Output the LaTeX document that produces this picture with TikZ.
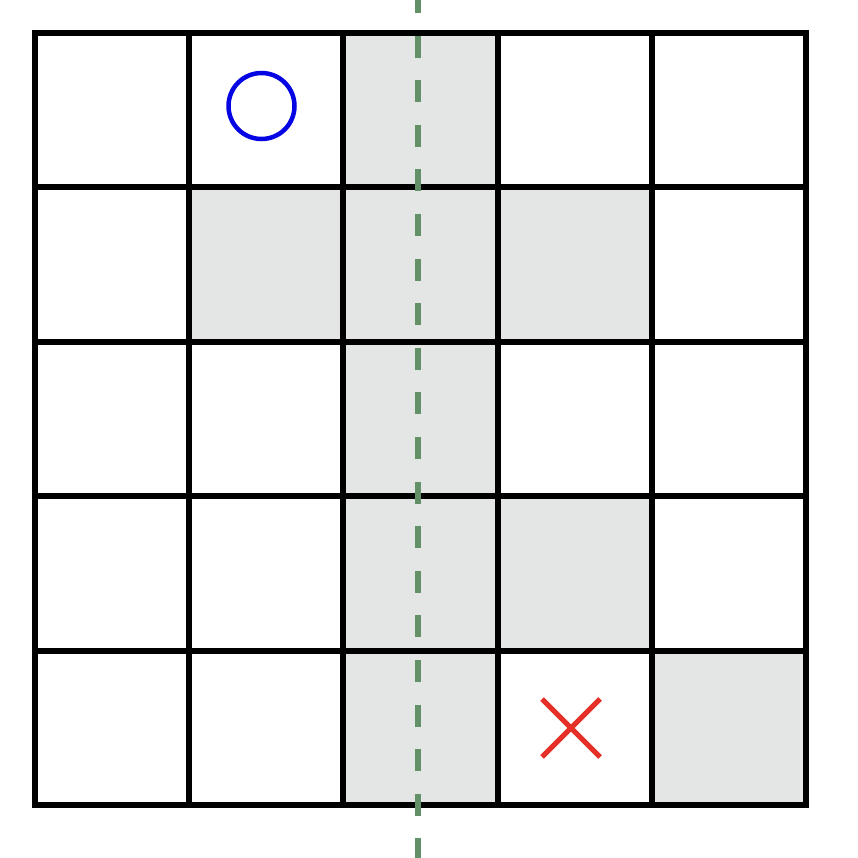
\documentclass[tikz,border=0pt]{standalone}
\usetikzlibrary{calc}
\begin{document}
\begin{tikzpicture}[x=1pt,y=-1pt,
  cellfill/.style={fill=cellgray,draw=none},
  gridline/.style={line width=6pt,draw=black,line cap=rect},
  axisline/.style={line width=6pt,draw=axisgreen,dash pattern=on 22pt off 22.6pt,dash phase=9pt},
  omark/.style={draw=oblue,line width=4.5pt},
  xmark/.style={draw=xred,line width=5pt}]
\definecolor{cellgray}{RGB}{228,229,229}
\definecolor{axisgreen}{RGB}{98,145,103}
\definecolor{oblue}{RGB}{5,5,228}
\definecolor{xred}{RGB}{228,48,38}
\useasboundingbox (0,0) rectangle (858,858);
\def\xs{154.2}\def\ys{154.4}
% shaded cells (col,row)
\foreach \c/\r in {2/0,1/1,2/1,3/1,2/2,2/3,3/3,2/4,4/4}{
  \path[cellfill] ({35+\c*\xs},{33+\r*\ys}) rectangle ++(\xs,\ys);
}
% grid
\foreach \i in {0,...,5}{
  \draw[gridline] ({35+\i*\xs},33) -- ({35+\i*\xs},{33+5*\ys});
  \draw[gridline] (35,{33+\i*\ys}) -- ({35+5*\xs},{33+\i*\ys});
}
% axis
\coordinate (atop) at (418,0);
\coordinate (abot) at (418,858);
\draw[axisline] (atop) -- (abot);
% O mark
\node[circle,omark,minimum size=66pt,inner sep=0pt] (o) at (261.5,106) {};
% X mark
\coordinate (xc) at (571,728);
\draw[xmark] ($(xc)+(-29,-29)$) -- ($(xc)+(29,29)$);
\draw[xmark] ($(xc)+(-29,29)$) -- ($(xc)+(29,-29)$);
\end{tikzpicture}
\end{document}
